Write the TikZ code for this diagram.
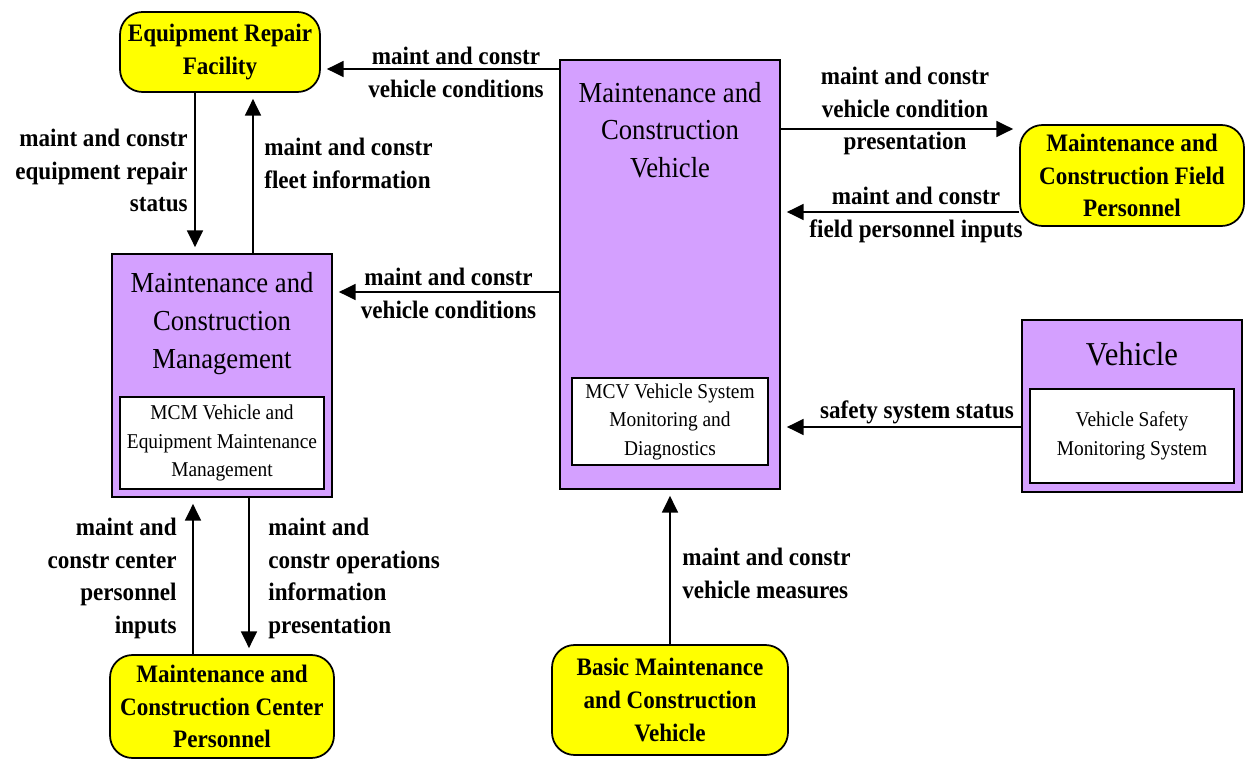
\documentclass[tikz,border=0pt]{standalone}
\usepackage{fontspec}
\setmainfont{Liberation Serif}
\newfontfamily\diafont[FakeStretch=0.92]{Liberation Serif}
\usetikzlibrary{positioning,calc,arrows.meta}
\definecolor{termfill}{RGB}{255,255,0}
\definecolor{sysfill}{RGB}{212,160,255}

\begin{document}
\begin{tikzpicture}[x=0.02cm, y=-0.02cm,
  terminator/.style={draw=black, line width=1pt, fill=termfill, rounded corners=0.45cm, align=center, inner sep=0pt, font=\diafont\fontsize{14.3}{18.7}\selectfont\bfseries},
  sysbox/.style={draw=black, line width=1pt, fill=sysfill, inner sep=0pt},
  subbox/.style={draw=black, line width=0.8pt, fill=white, align=center, inner sep=0pt, font=\diafont\fontsize{12}{16.2}\selectfont},
  systitle/.style={align=center, inner sep=0pt, font=\diafont\fontsize{16.5}{21.5}\selectfont},
  flowlabel/.style={inner sep=0pt, font=\diafont\fontsize{14.3}{18.7}\selectfont\bfseries},
  flow/.style={-{Triangle[length=9.5pt,width=9pt]}, line width=1.1pt, shorten >=0.12cm}]
\useasboundingbox (0,0) rectangle (1248,760);
% terminators
\node[terminator, minimum width=4cm, minimum height=1.6cm, text depth=0.1cm] (erf) at (220,52) {Equipment Repair\\Facility};
\node[terminator, minimum width=4.48cm, minimum height=2.02cm] (fld) at (1132,175.5) {Maintenance and\\Construction Field\\Personnel};
\node[terminator, minimum width=4.48cm, minimum height=2.06cm] (ctr) at (222,706.5) {Maintenance and\\Construction Center\\Personnel};
\node[terminator, minimum width=4.72cm, minimum height=2.2cm] (bmv) at (670,700) {Basic Maintenance\\and Construction\\Vehicle};
% subsystems
\node[sysbox, minimum width=4.4cm, minimum height=4.86cm] (mcm) at (222,375.5) {};
\node[systitle] at (222,323.5) {Maintenance and\\Construction\\Management};
\node[subbox, minimum width=4.08cm, minimum height=1.84cm] (mcmsub) at (222,443) {MCM Vehicle and\\Equipment Maintenance\\Management};
\node[sysbox, minimum width=4.4cm, minimum height=8.58cm] (mcv) at (670,274.5) {};
\node[systitle] at (670,130) {Maintenance and\\Construction\\Vehicle};
\node[subbox, minimum width=3.92cm, minimum height=1.74cm] (mcvsub) at (670,421.5) {MCV Vehicle System\\Monitoring and\\Diagnostics};
\node[sysbox, minimum width=4.4cm, minimum height=3.44cm] (veh) at (1132,406) {};
\node[systitle, font=\diafont\fontsize{19}{22}\selectfont] at (1132,354) {Vehicle};
\node[subbox, minimum width=4.08cm, minimum height=1.88cm] (vehsub) at (1132,436) {Vehicle Safety\\Monitoring System};
% flow heights
\coordinate (f1) at (0,69);
\coordinate (f4) at (0,292);
\coordinate (f5) at (0,129);
\coordinate (f6) at (0,212);
\coordinate (f7) at (0,427);
\coordinate (f2) at (195,0);
\coordinate (f3) at (253,0);
\coordinate (f8) at (670,0);
\coordinate (f9) at (193,0);
\coordinate (f10) at (249,0);
% flows
\draw[flow] (mcv.west |- f1) -- (erf.east |- f1);
\draw[flow] (erf.south -| f2) -- (mcm.north -| f2);
\draw[flow] (mcm.north -| f3) -- (erf.south -| f3);
\draw[flow] (mcv.west |- f4) -- (mcm.east |- f4);
\draw[flow] (mcv.east |- f5) -- (fld.west |- f5);
\draw[flow] (fld.west |- f6) -- (mcv.east |- f6);
\draw[flow] (veh.west |- f7) -- (mcv.east |- f7);
\draw[flow] (bmv.north -| f8) -- (mcv.south -| f8);
\draw[flow] (ctr.north -| f9) -- (mcm.south -| f9);
\draw[flow] (mcm.south -| f10) -- (ctr.north -| f10);
% flow labels
\node[flowlabel, align=center] (l1) at (456,72.5) {maint and constr\\vehicle conditions};
\node[flowlabel, align=right, anchor=east] (l2) at (188,170.5) {maint and constr\\equipment repair\\status};
\node[flowlabel, align=left, anchor=west] (l3) at (264,163) {maint and constr\\fleet information};
\node[flowlabel, align=center] (l4) at (448.5,293.5) {maint and constr\\vehicle conditions};
\node[flowlabel, align=center] (l5) at (905,111) {maint and constr\\vehicle condition\\presentation};
\node[flowlabel, align=center] (l6) at (916,215) {maint and constr\\field personnel inputs};
\node[flowlabel] (l7) at (917,412) {safety system status};
\node[flowlabel, align=left, anchor=west] (l8) at (682,573.5) {maint and constr\\vehicle measures};
\node[flowlabel, align=right, anchor=east] (l9) at (177,578.5) {maint and\\constr center\\personnel\\inputs};
\node[flowlabel, align=left, anchor=west] (l10) at (268,578.5) {maint and\\constr operations\\information\\presentation};
\end{tikzpicture}
\end{document}
